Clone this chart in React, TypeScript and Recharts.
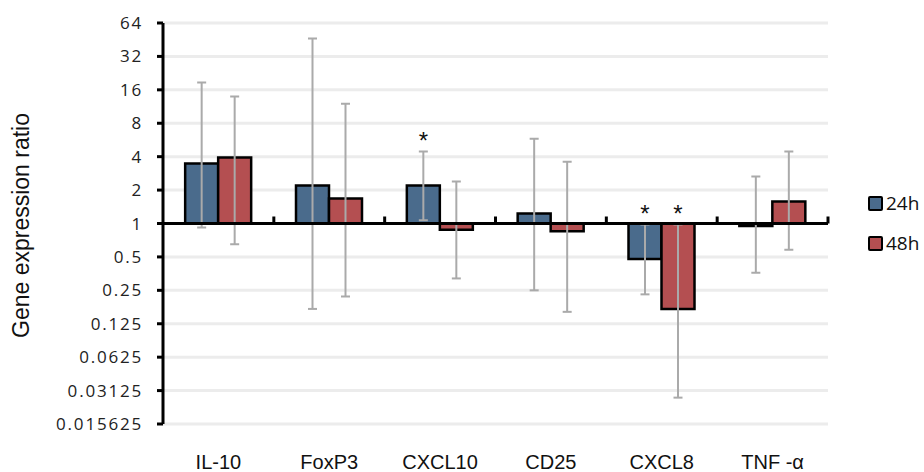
import React from 'react';
import {
  BarChart,
  Bar,
  XAxis,
  YAxis,
  CartesianGrid,
  ReferenceLine,
  Legend,
  LabelList,
} from 'recharts';

const genes = ['IL-10', 'FoxP3', 'CXCL10', 'CD25', 'CXCL8', 'TNF -α'];
const ratio24h = [3.48, 2.2, 2.2, 1.23, 0.48, 0.95];
const ratio48h = [3.94, 1.68, 0.88, 0.85, 0.17, 1.58];
const errLow24h = [0.92, 0.17, 1.07, 0.25, 0.23, 0.36];
const errHigh24h = [18.6, 46.5, 4.46, 5.8, 0.98, 2.65];
const errLow48h = [0.65, 0.22, 0.32, 0.16, 0.027, 0.58];
const errHigh48h = [13.9, 12.0, 2.39, 3.6, 0.98, 4.46];
const sig24h = ['', '', '*', '', '*', ''];
const sig48h = ['', '', '', '', '*', ''];
const yTicks = [0.015625, 0.03125, 0.0625, 0.125, 0.25, 0.5, 1, 2, 4, 8, 16, 32, 64];

const BLUE = '#4a6b8c';
const RED = '#b44f51';

// bars grow from ratio 1, so each bar is a [low, high] range
const span = (v: number) => [Math.min(1, v), Math.max(1, v)];

const data = genes.map((gene, i) => ({
  gene,
  r24: span(ratio24h[i]),
  r48: span(ratio48h[i]),
  e24: [errLow24h[i], errHigh24h[i]],
  e48: [errLow48h[i], errHigh48h[i]],
  s24: sig24h[i],
  s48: sig48h[i],
}));

const Whisker = (props: any) => {
  const { x, y, width, height } = props;
  const cx = x + width / 2;
  const cap = 4.5;
  return (
    <g stroke="#aaaaaa" strokeWidth={2}>
      <line x1={cx} y1={y} x2={cx} y2={y + height} />
      <line x1={cx - cap} y1={y} x2={cx + cap} y2={y} />
      <line x1={cx - cap} y1={y + height} x2={cx + cap} y2={y + height} />
    </g>
  );
};

// category axis drawn at ratio 1, with small ticks between the categories
const AxisAtOne = (props: any) => {
  const { x1, y1, x2 } = props;
  const step = (x2 - x1) / genes.length;
  return (
    <g stroke="#000" strokeWidth={3}>
      <line x1={x1} y1={y1} x2={x2} y2={y1} />
      {genes.map((g, i) => {
        const bx = x1 + step * (i + 1);
        return <line key={g} x1={bx} y1={y1} x2={bx} y2={y1 - 7} />;
      })}
    </g>
  );
};

const Star = (props: any) => {
  const { x, y, width, value } = props;
  if (!value) return null;
  return (
    <text
      x={x + width / 2}
      y={y - 2}
      textAnchor="middle"
      fontSize={24}
      fontFamily="Liberation Sans, Arial, sans-serif"
      fill="#111"
    >
      {value}
    </text>
  );
};

const LegendBox = (props: any) => {
  const items = (props.payload || []).filter((p: any) => p.type !== 'none');
  return (
    <div>
      {items.map((p: any) => (
        <div
          key={p.value}
          style={{ display: 'flex', alignItems: 'center', height: 40 }}
        >
          <span
            style={{
              width: 11,
              height: 11,
              background: p.color,
              border: '2.5px solid #000',
              borderRadius: 2,
              marginRight: 3,
            }}
          />
          <span style={{ fontFamily: 'Open Sans', fontSize: 19, color: '#111' }}>
            {p.value}
          </span>
        </div>
      ))}
    </div>
  );
};

const YLabel = (props: any) => {
  const { viewBox } = props;
  const x = viewBox.x + 29;
  const y = viewBox.y + viewBox.height / 2 + 2;
  return (
    <text
      x={x}
      y={y}
      transform={`rotate(-90, ${x}, ${y})`}
      textAnchor="middle"
      fontSize={23}
      fontFamily="Liberation Sans, Arial, sans-serif"
      fill="#111"
    >
      Gene expression ratio
    </text>
  );
};

export default function App() {
  return (
    <div style={{ position: 'absolute', left: 0, top: 0, width: 924, height: 472, background: '#fff' }}>
      <BarChart
        width={924}
        height={472}
        data={data}
        margin={{ top: 23, right: 96, left: 0, bottom: 0 }}
        barCategoryGap="20%"
        barGap={0}
      >
        <CartesianGrid horizontal vertical={false} stroke="#ececec" strokeWidth={3} />
        <XAxis
          dataKey="gene"
          height={48}
          interval={0}
          axisLine={false}
          tickLine={false}
          tickSize={0}
          tickMargin={31}
          tick={{ fill: '#111', fontSize: 20, fontFamily: 'Liberation Sans, Arial, sans-serif' }}
        />
        <XAxis xAxisId="err" dataKey="gene" hide />
        <YAxis
          scale="log"
          base={2}
          domain={[0.015625, 64]}
          allowDataOverflow
          ticks={yTicks}
          interval={0}
          width={163}
          axisLine={{ stroke: '#000', strokeWidth: 3 }}
          tickLine={{ stroke: '#000', strokeWidth: 3 }}
          tickSize={6}
          tickMargin={14}
          tick={{ fill: '#222', fontSize: 17, fontFamily: 'Open Sans', letterSpacing: 1.8 }}
          label={<YLabel />}
        />
        <Bar dataKey="r24" name="24h" fill={BLUE} stroke="#000" strokeWidth={2.5} isAnimationActive={false} />
        <Bar dataKey="r48" name="48h" fill={RED} stroke="#000" strokeWidth={2.5} isAnimationActive={false} />
        <ReferenceLine y={1} stroke="#000" strokeWidth={3} shape={(p: any) => <AxisAtOne {...p} />} />
        <Bar xAxisId="err" dataKey="e24" legendType="none" shape={<Whisker />} isAnimationActive={false}>
          <LabelList dataKey="s24" content={<Star />} />
        </Bar>
        <Bar xAxisId="err" dataKey="e48" legendType="none" shape={<Whisker />} isAnimationActive={false}>
          <LabelList dataKey="s48" content={<Star />} />
        </Bar>
        <Legend
          layout="vertical"
          align="center"
          verticalAlign="middle"
          content={<LegendBox />}
          wrapperStyle={{ left: 868, top: 183, width: 56 }}
        />
      </BarChart>
    </div>
  );
}
